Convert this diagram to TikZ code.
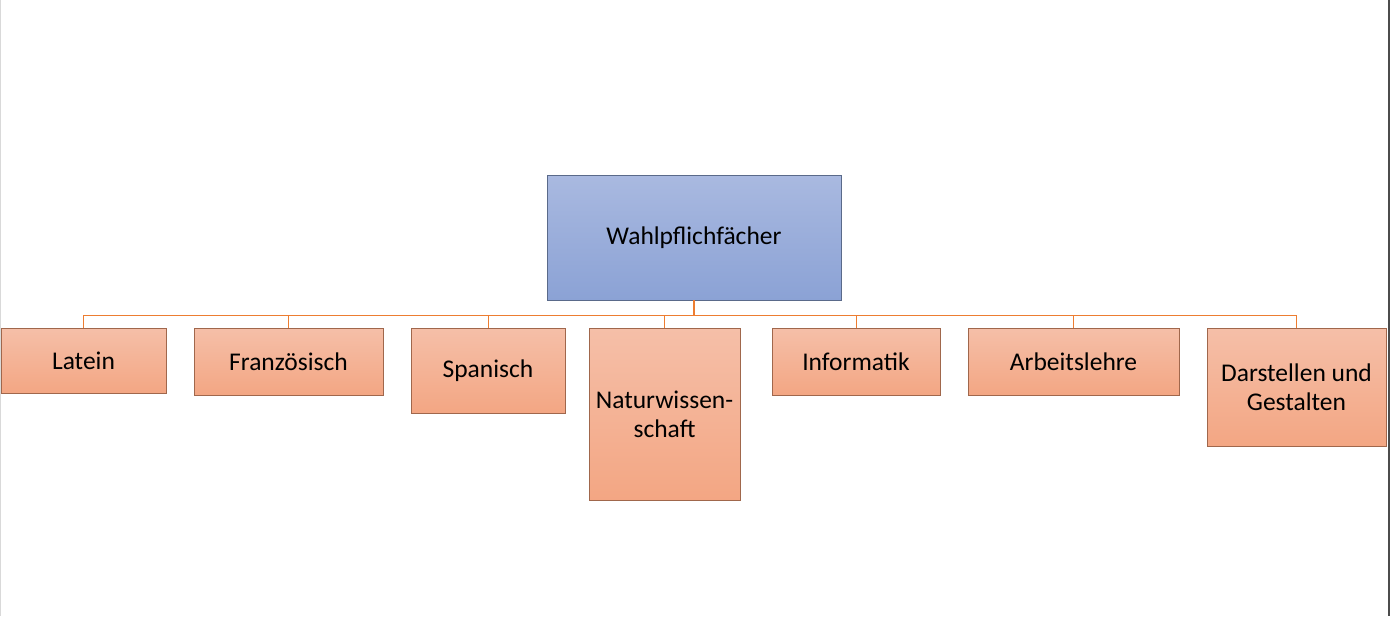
\documentclass[tikz,border=0pt]{standalone}
\usepackage{fontspec}
\setmainfont{Carlito}

\definecolor{blautop}{HTML}{A9B9E0}
\definecolor{blaubot}{HTML}{8BA2D5}
\definecolor{blaurand}{HTML}{5A6A8A}
\definecolor{orgtop}{HTML}{F5BFA8}
\definecolor{orgbot}{HTML}{F3A683}
\definecolor{orgrand}{HTML}{A0674C}
\definecolor{linie}{HTML}{ED7D31}

\begin{document}
\begin{tikzpicture}[x=1pt,y=-1pt,
	every node/.style={font=\fontsize{25.5}{29}\selectfont, align=center, inner sep=0pt},
	haupt/.style={draw=blaurand, line width=0.8pt, top color=blautop, bottom color=blaubot,
		minimum width=294, minimum height=125},
	fach/.style={draw=orgrand, line width=0.8pt, top color=orgtop, bottom color=orgbot, anchor=north},
	link/.style={draw=linie, line width=0.9pt}]
	\useasboundingbox (0,0) rectangle (1390,616);
	\draw[black!15, line width=1.2pt] (0.6,0) -- (0.6,616);
	\draw[black!70, line width=1.5pt] (1388.8,0) -- (1388.8,616);

	\node[haupt] (wpf) at (694,237.5) {Wahlpflichfächer};
	\coordinate (bus) at (694,315);

	\foreach \nm/\x/\w/\h/\txt in {lat/83.5/165/65/Latein, fra/288.5/189/67/Französisch,
		spa/488/154/85/Spanisch, nat/664.5/151/172/{Naturwissen-\\schaft},
		inf/856/168/67/Informatik, arb/1073.5/211/67/Arbeitslehre,
		dar/1296.5/179/118/{Darstellen und\\Gestalten}}
	{
		\node[fach, minimum width=\w, minimum height=\h] (\nm) at (\x,328) {\txt};
		\draw[link] (bus -| \nm.north) -- (\nm.north);
	}

	\draw[link] (bus -| lat.north) -- (bus -| dar.north);
	\draw[link, line width=2pt] (wpf.south) -- (bus);
\end{tikzpicture}
\end{document}
